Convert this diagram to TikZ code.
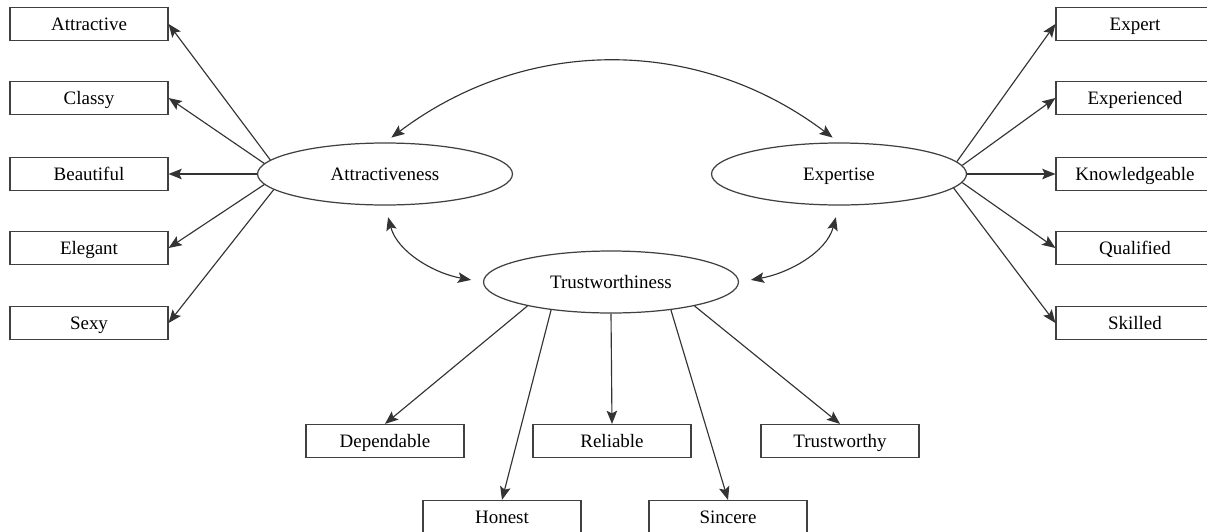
\documentclass[tikz,border=0pt]{standalone}
\usepackage{fontspec}
\setmainfont{Liberation Serif}
\usetikzlibrary{shapes.geometric,arrows.meta}

\begin{document}
\begin{tikzpicture}[x=0.02cm, y=-0.02cm,
  box_style/.style={draw=black!75, line width=0.7pt, minimum width=3.16cm, minimum height=0.66cm, inner sep=0pt, text height=1.9ex, text depth=0.4ex, font=\fontsize{10.8}{12}\selectfont},
  latent_style/.style={ellipse, draw=black!75, line width=0.7pt, minimum width=5.1cm, minimum height=1.24cm, inner sep=0pt, text height=1.9ex, text depth=0.4ex, font=\fontsize{10.8}{12}\selectfont},
  edge_style/.style={draw=black!80, line width=0.65pt},
  corr_style/.style={draw=black!80, line width=0.65pt, shorten <=0.24cm, shorten >=0.24cm}]
      \useasboundingbox (0,0) rectangle (1207,531);
      \draw
        (385,174) node[latent_style] (attr){Attractiveness}
        (839,174) node[latent_style] (expert){Expertise}
        (611,282) node[latent_style] (trust){Trustworthiness}
        (89,24) node[box_style] (attractive){Attractive}
        (89,98) node[box_style] (classy){Classy}
        (89,174) node[box_style] (beautiful){Beautiful}
        (89,248) node[box_style] (elegant){Elegant}
        (89,323) node[box_style] (sexy){Sexy}
        (1135,24) node[box_style] (expt){Expert}
        (1135,98) node[box_style] (experienced){Experienced}
        (1135,174) node[box_style] (knowledgeable){Knowledgeable}
        (1135,248) node[box_style] (qualified){Qualified}
        (1135,323) node[box_style] (skilled){Skilled}
        (385,441) node[box_style] (dependable){Dependable}
        (612,441) node[box_style] (reliable){Reliable}
        (840,441) node[box_style] (trustworthy){Trustworthy}
        (502,517) node[box_style] (honest){Honest}
        (728,517) node[box_style] (sincere){Sincere};
      \begin{scope}[-{Stealth[length=7.5pt,width=6pt,inset=1.5pt]}]
        \draw[edge_style] (attr.173) to (attractive.east);
        \draw[edge_style] (attr.175) to (classy.east);
        \draw[edge_style] (attr.180) to (beautiful.east);
        \draw[edge_style] (attr.185) to (elegant.east);
        \draw[edge_style] (attr.188) to (sexy.east);
        \draw[edge_style] (expert.6) to (expt.west);
        \draw[edge_style] (expert.4) to (experienced.west);
        \draw[edge_style] (expert.0) to (knowledgeable.west);
        \draw[edge_style] (expert.-4) to (qualified.west);
        \draw[edge_style] (expert.-7) to (skilled.west);
        \draw[edge_style] (trust.196) to (dependable.north);
        \draw[edge_style] (trust.205) to (honest.north);
        \draw[edge_style] (trust.270) to (reliable.north);
        \draw[edge_style] (trust.335) to (sincere.north);
        \draw[edge_style] (trust.344) to (trustworthy.north);
      \end{scope}
      \begin{scope}[{Stealth[length=7.5pt,width=6pt,inset=1.5pt]}-{Stealth[length=7.5pt,width=6pt,inset=1.5pt]}]
        \draw[corr_style, shorten <=0.16cm, shorten >=0.16cm] (attr.north) to[out=37,in=143] (expert.north);
        \draw[corr_style] (attr.south) to[out=-75,in=170] (trust.west);
        \draw[corr_style] (expert.south) to[out=-105,in=10] (trust.east);
      \end{scope}
    \end{tikzpicture}
\end{document}
